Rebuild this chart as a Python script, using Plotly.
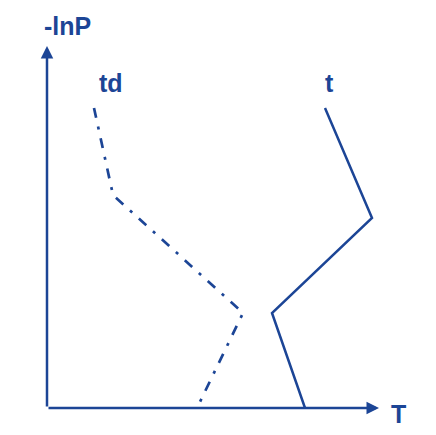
import plotly.graph_objects as go

# Conceptual sounding: temperature (T) vs height (-lnP), arbitrary units
levels_t = [300, 190, 95, 0]
t_values = [278, 325, 225, 258]
levels_td = [300, 213, 95, 0]
td_values = [47, 66, 196, 150]

axis_labels = {"x": "T", "y": "-lnP"}
series_labels = {"t": "t", "td": "td"}

color = "#1c4596"
font = "Liberation Sans, Arial, sans-serif"

X_MAX, Y_MAX = 389, 400

fig = go.Figure()
fig.add_trace(go.Scatter(x=t_values, y=levels_t, mode="lines",
                         line=dict(color=color, width=2.5), hoverinfo="skip"))
fig.add_trace(go.Scatter(x=td_values, y=levels_td, mode="lines",
                         line=dict(color=color, width=2.7, dash="10px,9px,3px,9px"),
                         hoverinfo="skip"))

# axes with arrows
fig.add_annotation(x=332, y=0, ax=0, ay=0, xref="x", yref="y", axref="x", ayref="y",
                   showarrow=True, arrowhead=2, arrowsize=1, arrowwidth=2.5,
                   arrowcolor=color, text="")
fig.add_annotation(x=0, y=362, ax=0, ay=0, xref="x", yref="y", axref="x", ayref="y",
                   showarrow=True, arrowhead=2, arrowsize=1, arrowwidth=2.5,
                   arrowcolor=color, text="")

# labels
fig.add_annotation(x=-5 / X_MAX, y=382, xref="paper", yref="y",
                   text="<b>%s</b>" % axis_labels["y"], yanchor="middle",
                   showarrow=False, font=dict(family=font, size=25, color=color))
fig.add_annotation(x=351.5, y=-6 / Y_MAX, xref="x", yref="paper",
                   text="<b>%s</b>" % axis_labels["x"], yanchor="middle",
                   showarrow=False, font=dict(family=font, size=25, color=color))
fig.add_annotation(x=td_values[0] + 17, y=levels_td[0] + 25, xref="x", yref="y",
                   text="<b>%s</b>" % series_labels["td"],
                   showarrow=False, font=dict(family=font, size=25, color=color))
fig.add_annotation(x=t_values[0] + 4, y=levels_t[0] + 25, xref="x", yref="y",
                   text="<b>%s</b>" % series_labels["t"],
                   showarrow=False, font=dict(family=font, size=25, color=color))

fig.update_layout(
    width=428, height=427,
    margin=dict(l=39, r=0, t=0, b=27),
    paper_bgcolor="white", plot_bgcolor="white",
    showlegend=False,
    xaxis=dict(range=[0, X_MAX], visible=False, fixedrange=True),
    yaxis=dict(range=[0, Y_MAX], visible=False, fixedrange=True),
)
fig.write_html("out.html")
